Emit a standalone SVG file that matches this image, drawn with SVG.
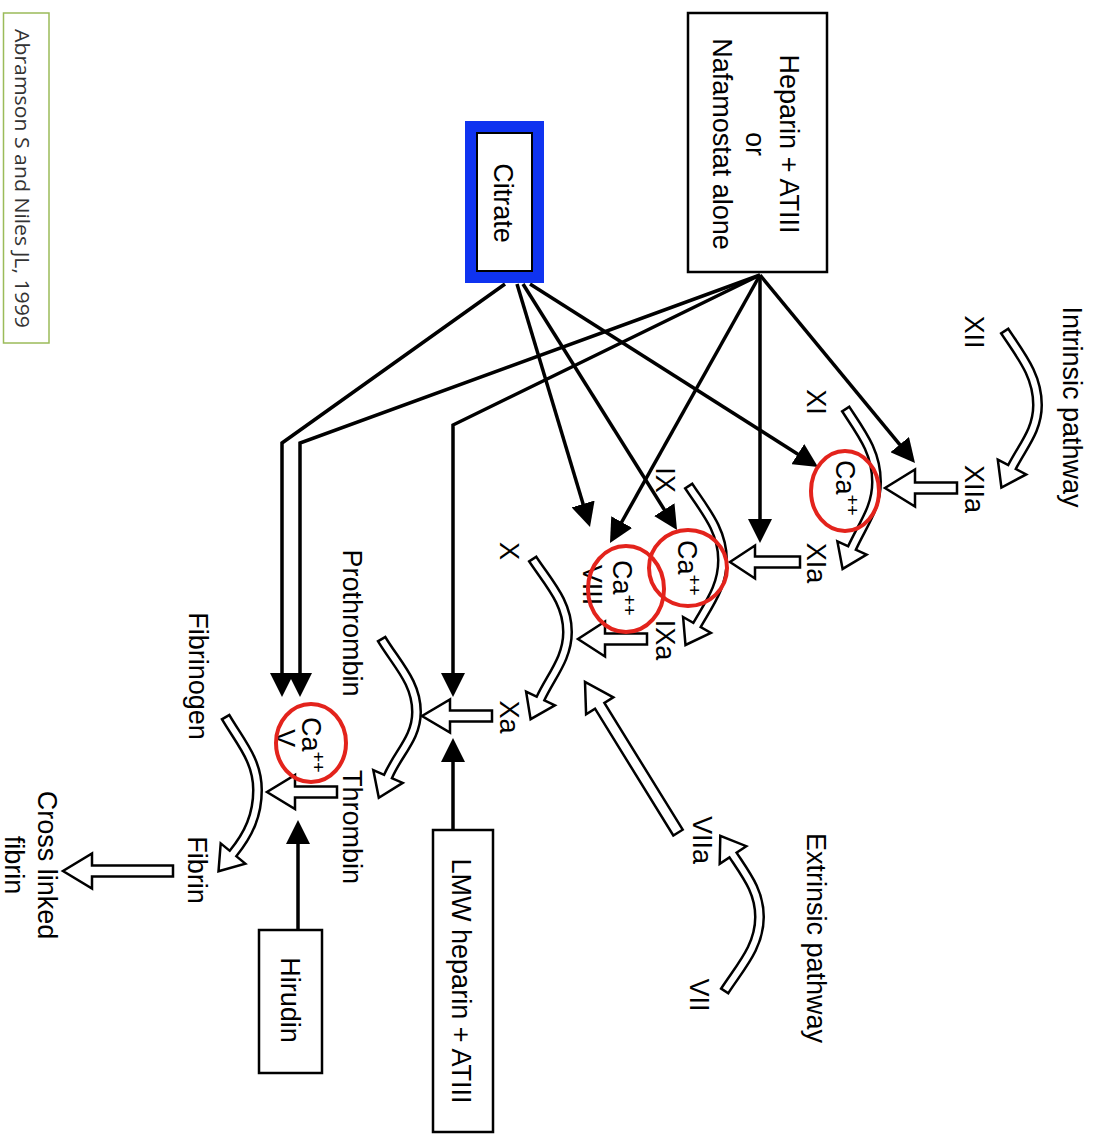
<svg xmlns="http://www.w3.org/2000/svg" width="1096" height="1135" viewBox="0 0 1096 1135">
<style>
.t{font-family:"Liberation Sans",Arial,Helvetica,sans-serif;font-size:27px;fill:#000}
.sup{font-size:18px}
.box{fill:#fff;stroke:#000;stroke-width:2.5}
.conn{fill:none;stroke:#000;stroke-width:3.5;stroke-linejoin:miter;marker-end:url(#ah)}
.ca{fill:none;stroke:#e3231c;stroke-width:4}
.hb{fill:none;stroke:#000;stroke-width:11}
.hw{fill:none;stroke:#fff;stroke-width:6;stroke-dasharray:0 2.5 3000}
.hh{fill:#fff;stroke:#000;stroke-width:2.5;stroke-linejoin:miter}
</style>
<defs>
<marker id="ah" viewBox="0 0 24 24" refX="16" refY="12" markerWidth="24" markerHeight="24" markerUnits="userSpaceOnUse" orient="auto">
<path d="M0,0 L24,12 L0,24 z" fill="#000"/>
</marker>
</defs>
<rect width="1096" height="1135" fill="#fff"/>

<!-- attribution -->
<g id="attribution">
<rect x="3.5" y="13" width="45.5" height="330" fill="#fff" stroke="#9bbb59" stroke-width="1.5"/>
<text transform="translate(15,178.5) rotate(90)" text-anchor="middle" textLength="299" lengthAdjust="spacingAndGlyphs" style="font-family:'Open Sans','Liberation Sans',sans-serif;font-size:20px;fill:#333">Abramson S and Niles JL, 1999</text>
</g>

<!-- hollow process arrows -->
<g id="process-arrows">
<!-- XII -> XIIa -->
<path class="hb" d="M1004,330 C1020.5,355.2 1037.5,375 1037.5,405 C1037.5,430 1023.5,444.8 1012,467"/>
<polygon class="hh" points="997.8,459.6 1026.2,474.4 1001.4,487.5"/>
<path class="hw" d="M1004,330 C1020.5,355.2 1037.5,375 1037.5,405 C1037.5,430 1023.5,444.8 1012,467 L1010.2,470.6"/>
<!-- XI -> XIa -->
<path class="hb" d="M845,408 C861.5,433.2 876.5,452 876.5,482 C876.5,508 862.7,524.3 852,548"/>
<polygon class="hh" points="837.4,541.4 866.6,554.6 842.6,568.9"/>
<path class="hw" d="M845,408 C861.5,433.2 876.5,452 876.5,482 C876.5,508 862.7,524.3 852,548 L850.4,551.6"/>
<!-- IX -> IXa -->
<path class="hb" d="M688,485 C704.5,509.9 722.5,530 722.5,560 C722.5,586 710,602.4 697,625"/>
<polygon class="hh" points="683.1,617 710.9,633 685.5,645"/>
<path class="hw" d="M688,485 C704.5,509.9 722.5,530 722.5,560 C722.5,586 710,602.4 697,625 L695,628.5"/>
<!-- X -> Xa -->
<path class="hb" d="M532,558 C548.5,583.2 567.5,602 567.5,632 C567.5,658 551.7,675.1 540.5,698.5"/>
<polygon class="hh" points="526.1,691.6 554.9,705.4 530.6,719.2"/>
<path class="hw" d="M532,558 C548.5,583.2 567.5,602 567.5,632 C567.5,658 551.7,675.1 540.5,698.5 L538.8,702.1"/>
<!-- VII -> VIIa -->
<path class="hb" d="M724,992 C740.2,966.8 759.5,947 759.5,917 C759.5,892 746.8,875.8 733,855"/>
<polygon class="hh" points="746.3,846.2 719.7,863.8 720.3,835.9"/>
<path class="hw" d="M724,992 C740.2,966.8 759.5,947 759.5,917 C759.5,892 746.8,875.8 733,855 L730.8,851.7"/>
<!-- Prothrombin -> Thrombin -->
<path class="hb" d="M381,638 C396.3,663.8 416.5,682 416.5,712 C416.5,738 398.4,752.6 388,776.5"/>
<polygon class="hh" points="373.3,770.1 402.7,782.9 378.8,797.7"/>
<path class="hw" d="M381,638 C396.3,663.8 416.5,682 416.5,712 C416.5,738 398.4,752.6 388,776.5 L386.4,780.2"/>
<!-- Fibrinogen -> Fibrin -->
<path class="hb" d="M225,716 C240,741.8 257.5,760 257.5,790 C257.5,815 248.75,834.25 233,853.5"/>
<polygon class="hh" points="220.7,843.4 245.3,863.6 218.5,871.2"/>
<path class="hw" d="M225,716 C240,741.8 257.5,760 257.5,790 C257.5,815 248.75,834.25 233,853.5 L230.5,856.6"/>

<!-- straight hollow arrows -->
<polygon class="hh" points="957,482.5 915,482.5 915,469.5 885,488 915,506.5 915,493.5 957,493.5"/>
<polygon class="hh" points="800,556.5 755,556.5 755,545.5 730,562 755,578.5 755,567.5 800,567.5"/>
<polygon class="hh" points="647,633.5 605,633.5 605,621.5 578,639 605,656.5 605,644.5 647,644.5"/>
<polygon class="hh" points="492,710.5 450,710.5 450,699.5 422,716 450,732.5 450,721.5 492,721.5"/>
<polygon class="hh" points="337,786.5 295,786.5 295,775 267,792 295,809 295,797.5 337,797.5"/>
<polygon class="hh" points="173,865.5 92,865.5 92,853.5 63,871 92,888.5 92,876.5 173,876.5"/>
<polygon class="hh" transform="translate(585,682) rotate(58.3)" points="177,-5.5 28,-5.5 28,-16 0,0 28,16 28,5.5 177,5.5"/>
</g>

<!-- inhibitor connectors -->
<g id="connectors">
<path class="conn" d="M760,275 L909.9,456.9"/>
<path class="conn" d="M760,275 L760,535"/>
<path class="conn" d="M760,275 L613.9,536"/>
<path class="conn" d="M760,275 L453,425 L453,689"/>
<path class="conn" d="M760,275 L300,443 L300,689"/>
<path class="conn" d="M505,284 L282,443 L282,689"/>
<path class="conn" d="M517,284 L587.7,519.3"/>
<path class="conn" d="M523,284 L672.8,523.2"/>
<path class="conn" d="M530,284 L811.3,462.7"/>
<path class="conn" d="M453,831 L453,746"/>
<path class="conn" d="M298,931 L298,828"/>
</g>

<!-- boxes -->
<g id="heparin">
<rect class="box" x="688" y="13" width="139" height="259"/>
<text class="t" transform="translate(780,144) rotate(90)" text-anchor="middle">Heparin + ATIII</text>
<text class="t" transform="translate(746,144) rotate(90)" text-anchor="middle">or</text>
<text class="t" transform="translate(713,144) rotate(90)" text-anchor="middle">Nafamostat alone</text>
</g>
<g id="citrate">
<rect x="470.5" y="126.5" width="68" height="151" fill="#fff" stroke="#0f33f0" stroke-width="11"/>
<rect x="477" y="133" width="55" height="138" fill="#fff" stroke="#000" stroke-width="2"/>
<text class="t" transform="translate(494,203) rotate(90)" text-anchor="middle">Citrate</text>
</g>
<g id="lmw">
<rect class="box" x="433" y="830" width="60" height="302"/>
<text class="t" transform="translate(452,981) rotate(90)" text-anchor="middle">LMW heparin + ATIII</text>
</g>
<g id="hirudin">
<rect class="box" x="259" y="930" width="63" height="143"/>
<text class="t" transform="translate(281,1000) rotate(90)" text-anchor="middle">Hirudin</text>
</g>

<!-- factor labels -->
<g id="intrinsic"><text class="t" transform="translate(1063,407) rotate(90)" text-anchor="middle">Intrinsic pathway</text></g>
<g id="extrinsic"><text class="t" transform="translate(807,938) rotate(90)" text-anchor="middle">Extrinsic pathway</text></g>
<g id="f12"><text class="t" transform="translate(965,332) rotate(90)" text-anchor="middle">XII</text></g>
<g id="f12a"><text class="t" transform="translate(965,489) rotate(90)" text-anchor="middle">XIIa</text></g>
<g id="f11"><text class="t" transform="translate(807,402) rotate(90)" text-anchor="middle">XI</text></g>
<g id="f11a"><text class="t" transform="translate(807,563) rotate(90)" text-anchor="middle">XIa</text></g>
<g id="f9"><text class="t" transform="translate(656,480) rotate(90)" text-anchor="middle">IX</text></g>
<g id="f9a"><text class="t" transform="translate(656,640) rotate(90)" text-anchor="middle">IXa</text></g>
<g id="f8"><text class="t" transform="translate(583,585) rotate(90)" text-anchor="middle">VIII</text></g>
<g id="f10"><text class="t" transform="translate(500,551) rotate(90)" text-anchor="middle">X</text></g>
<g id="f10a"><text class="t" transform="translate(500,717) rotate(90)" text-anchor="middle">Xa</text></g>
<g id="f7a"><text class="t" transform="translate(693,840) rotate(90)" text-anchor="middle">VIIa</text></g>
<g id="f7"><text class="t" transform="translate(690,995) rotate(90)" text-anchor="middle">VII</text></g>
<g id="prothrombin"><text class="t" transform="translate(343,623) rotate(90)" text-anchor="middle">Prothrombin</text></g>
<g id="thrombin"><text class="t" transform="translate(343,827) rotate(90)" text-anchor="middle">Thrombin</text></g>
<g id="fibrinogen"><text class="t" transform="translate(189,676) rotate(90)" text-anchor="middle">Fibrinogen</text></g>
<g id="fibrin"><text class="t" transform="translate(188,870) rotate(90)" text-anchor="middle">Fibrin</text></g>
<g id="crosslinked">
<text class="t" transform="translate(38,865) rotate(90)" text-anchor="middle">Cross linked</text>
<text class="t" transform="translate(5,865) rotate(90)" text-anchor="middle">fibrin</text>
</g>
<g id="f5"><text class="t" transform="translate(276,738) rotate(90)" text-anchor="middle">V</text></g>

<!-- calcium sites -->
<g id="ca1">
<text class="t" transform="translate(836,460) rotate(90)">Ca<tspan class="sup" dy="-10">++</tspan></text>
<ellipse class="ca" cx="845" cy="491" rx="34" ry="40"/>
</g>
<g id="ca2">
<text class="t" transform="translate(678,540) rotate(90)">Ca<tspan class="sup" dy="-10">++</tspan></text>
<ellipse class="ca" cx="688" cy="568" rx="39" ry="38"/>
</g>
<g id="ca3">
<text class="t" transform="translate(613,560) rotate(90)">Ca<tspan class="sup" dy="-10">++</tspan></text>
<ellipse class="ca" cx="626" cy="589" rx="38" ry="43"/>
</g>
<g id="ca4">
<text class="t" transform="translate(302,717) rotate(90)">Ca<tspan class="sup" dy="-10">++</tspan></text>
<ellipse class="ca" cx="311" cy="743" rx="35" ry="39"/>
</g>
</svg>
